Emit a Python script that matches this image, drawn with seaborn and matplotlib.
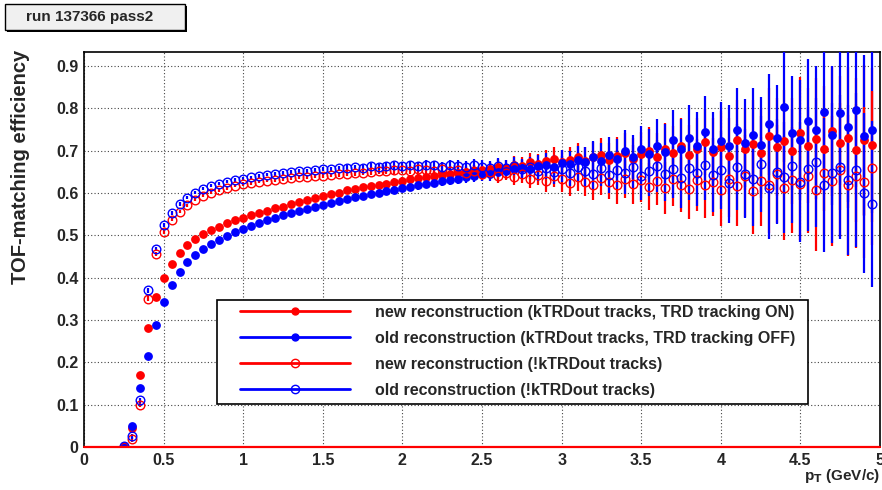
import numpy as np
import matplotlib
matplotlib.use("Agg")
import matplotlib.pyplot as plt
from matplotlib.lines import Line2D
from matplotlib.patches import Rectangle
import seaborn as sns

# pT bin centres (GeV/c)
pt = np.round(np.arange(0.25, 4.951, 0.05), 2)

# TOF matching efficiency
new_trd = [0.002, 0.045, 0.170, 0.280, 0.355, 0.400, 0.433, 0.458, 0.477, 0.491,
           0.502, 0.512, 0.520, 0.528, 0.535, 0.542, 0.548, 0.553, 0.558, 0.564,
           0.568, 0.574, 0.579, 0.584, 0.589, 0.593, 0.598, 0.601, 0.607, 0.609,
           0.613, 0.617, 0.619, 0.622, 0.627, 0.629, 0.632, 0.636, 0.637, 0.641,
           0.643, 0.646, 0.648, 0.650, 0.652, 0.655, 0.657, 0.662, 0.660, 0.667,
           0.664, 0.672, 0.668, 0.676, 0.681, 0.672, 0.678, 0.686, 0.675, 0.684,
           0.690, 0.679, 0.688, 0.695, 0.681, 0.692, 0.700, 0.686, 0.705, 0.694,
           0.712, 0.690, 0.703, 0.720, 0.697, 0.708, 0.688, 0.725, 0.703, 0.716,
           0.694, 0.735, 0.709, 0.722, 0.700, 0.742, 0.712, 0.728, 0.705, 0.747,
           0.718, 0.731, 0.702, 0.725, 0.714]
old_trd = [0.003, 0.050, 0.140, 0.215, 0.288, 0.343, 0.382, 0.413, 0.436, 0.453,
           0.467, 0.479, 0.489, 0.499, 0.508, 0.516, 0.523, 0.530, 0.536, 0.542,
           0.547, 0.553, 0.558, 0.563, 0.567, 0.572, 0.577, 0.581, 0.585, 0.590,
           0.593, 0.597, 0.601, 0.604, 0.608, 0.611, 0.615, 0.618, 0.621, 0.624,
           0.628, 0.631, 0.634, 0.637, 0.640, 0.644, 0.646, 0.650, 0.652, 0.656,
           0.659, 0.656, 0.664, 0.667, 0.662, 0.671, 0.668, 0.677, 0.672, 0.684,
           0.676, 0.689, 0.681, 0.698, 0.684, 0.703, 0.692, 0.712, 0.697, 0.726,
           0.703, 0.731, 0.712, 0.745, 0.705, 0.722, 0.712, 0.748, 0.718, 0.737,
           0.713, 0.762, 0.731, 0.803, 0.742, 0.725, 0.771, 0.748, 0.792, 0.736,
           0.788, 0.756, 0.797, 0.735, 0.748]
new_notrd = [0.001, 0.018, 0.100, 0.350, 0.455, 0.508, 0.537, 0.556, 0.571, 0.584,
             0.594, 0.601, 0.607, 0.612, 0.617, 0.621, 0.624, 0.627, 0.629, 0.631,
             0.633, 0.635, 0.637, 0.638, 0.640, 0.641, 0.642, 0.644, 0.645, 0.647,
             0.648, 0.650, 0.651, 0.653, 0.654, 0.655, 0.653, 0.657, 0.655, 0.652,
             0.656, 0.651, 0.654, 0.648, 0.652, 0.645, 0.650, 0.641, 0.648, 0.638,
             0.645, 0.633, 0.642, 0.628, 0.640, 0.632, 0.624, 0.638, 0.627, 0.620,
             0.635, 0.626, 0.618, 0.633, 0.622, 0.630, 0.615, 0.628, 0.612, 0.634,
             0.620, 0.610, 0.631, 0.618, 0.625, 0.608, 0.632, 0.616, 0.640, 0.605,
             0.628, 0.618, 0.645, 0.612, 0.630, 0.622, 0.640, 0.606, 0.648, 0.628,
             0.655, 0.618, 0.640, 0.625, 0.660]
old_notrd = [0.002, 0.025, 0.110, 0.370, 0.468, 0.524, 0.553, 0.574, 0.589, 0.601,
             0.610, 0.617, 0.622, 0.627, 0.631, 0.634, 0.637, 0.640, 0.643, 0.645,
             0.647, 0.649, 0.651, 0.652, 0.654, 0.656, 0.656, 0.658, 0.659, 0.661,
             0.660, 0.663, 0.662, 0.664, 0.665, 0.664, 0.666, 0.663, 0.667, 0.665,
             0.662, 0.667, 0.664, 0.661, 0.666, 0.662, 0.659, 0.664, 0.658, 0.663,
             0.656, 0.661, 0.653, 0.659, 0.650, 0.657, 0.648, 0.662, 0.651, 0.645,
             0.658, 0.643, 0.655, 0.648, 0.661, 0.640, 0.652, 0.664, 0.645, 0.657,
             0.636, 0.660, 0.648, 0.667, 0.642, 0.655, 0.623, 0.661, 0.646, 0.632,
             0.668, 0.612, 0.650, 0.637, 0.664, 0.626, 0.657, 0.672, 0.618, 0.648,
             0.661, 0.630, 0.655, 0.600, 0.575]

# statistical errors (same for both track selections of one reconstruction)
err_new = [0.005, 0.006, 0.006, 0.006, 0.005, 0.005, 0.004, 0.004, 0.004, 0.004,
           0.004, 0.004, 0.004, 0.004, 0.004, 0.004, 0.004, 0.004, 0.004, 0.004,
           0.004, 0.004, 0.005, 0.005, 0.005, 0.005, 0.005, 0.006, 0.006, 0.006,
           0.006, 0.007, 0.007, 0.007, 0.008, 0.008, 0.009, 0.009, 0.010, 0.010,
           0.011, 0.012, 0.012, 0.013, 0.014, 0.015, 0.016, 0.018, 0.017, 0.020,
           0.021, 0.022, 0.024, 0.025, 0.027, 0.029, 0.030, 0.033, 0.034, 0.037,
           0.039, 0.040, 0.044, 0.046, 0.048, 0.052, 0.055, 0.056, 0.061, 0.064,
           0.066, 0.071, 0.073, 0.078, 0.080, 0.086, 0.088, 0.094, 0.097, 0.103,
           0.105, 0.112, 0.115, 0.122, 0.125, 0.132, 0.135, 0.143, 0.147, 0.154,
           0.158, 0.166, 0.170, 0.178, 0.182]
err_old = [0.005, 0.006, 0.006, 0.006, 0.005, 0.005, 0.004, 0.004, 0.004, 0.004,
           0.004, 0.004, 0.004, 0.004, 0.004, 0.004, 0.004, 0.004, 0.004, 0.004,
           0.004, 0.005, 0.005, 0.005, 0.005, 0.005, 0.006, 0.006, 0.006, 0.006,
           0.007, 0.007, 0.007, 0.008, 0.008, 0.009, 0.009, 0.010, 0.010, 0.011,
           0.012, 0.012, 0.013, 0.014, 0.015, 0.016, 0.017, 0.018, 0.019, 0.021,
           0.022, 0.024, 0.025, 0.027, 0.028, 0.031, 0.032, 0.035, 0.037, 0.039,
           0.041, 0.044, 0.046, 0.050, 0.052, 0.056, 0.058, 0.062, 0.065, 0.069,
           0.072, 0.076, 0.079, 0.084, 0.087, 0.092, 0.095, 0.101, 0.105, 0.110,
           0.114, 0.120, 0.124, 0.131, 0.135, 0.142, 0.146, 0.153, 0.158, 0.165,
           0.170, 0.177, 0.182, 0.190, 0.196]

labels = ["new reconstruction (kTRDout tracks, TRD tracking ON)",
          "old reconstruction (kTRDout tracks, TRD tracking OFF)",
          "new reconstruction (!kTRDout tracks)",
          "old reconstruction (!kTRDout tracks)"]

sns.set_style("white")
fonts = ["Liberation Sans", "DejaVu Sans"]
plt.rcParams["font.family"] = fonts
plt.rcParams["font.weight"] = "bold"
plt.rcParams["mathtext.default"] = "bf"

fig = plt.figure(figsize=(8.82, 4.9), dpi=100)
ax = fig.add_axes([84 / 882, 43 / 490, 796 / 882, 395 / 490])

series = [(new_trd, err_new, "red", True),
          (old_trd, err_old, "blue", True),
          (new_notrd, err_new, "red", False),
          (old_notrd, err_old, "blue", False)]
for vals, err, col, filled in series:
    ax.errorbar(pt, vals, yerr=err, fmt="o", color=col, ecolor=col,
                elinewidth=1.6, capsize=0,
                ms=5.3 if filled else 6.2, mew=1.0,
                mfc=col if filled else "none", mec=col, zorder=3)

# empty bins sit on the axis
ax.axhline(0, color="red", lw=1.6, zorder=4, clip_on=False)

ax.set_xlim(0, 5)
ax.set_ylim(0, 0.933)
ax.set_xticks(np.arange(0, 5.01, 0.5))
ax.set_xticklabels(["0", "0.5", "1", "1.5", "2", "2.5", "3", "3.5", "4", "4.5", "5"])
ax.set_xticks(np.arange(0, 5.01, 0.1), minor=True)
ax.set_yticks(np.arange(0, 0.91, 0.1))
ax.set_yticklabels(["0", "0.1", "0.2", "0.3", "0.4", "0.5", "0.6", "0.7", "0.8", "0.9"])
ax.set_yticks(np.arange(0, 0.93, 0.02), minor=True)
ax.tick_params(axis="both", which="both", direction="in", color="black",
               labelsize=11.5, pad=4, top=False, right=False)
ax.tick_params(axis="y", which="major", length=17, width=1)
ax.tick_params(axis="y", which="minor", length=8.5, width=1)
ax.tick_params(axis="x", which="major", length=7, width=1)
ax.tick_params(axis="x", which="minor", length=3.5, width=1)
ax.grid(True, which="major", ls=(0, (1, 2)), color="#444444", lw=0.8)
for sp in ax.spines.values():
    sp.set_color("black")
    sp.set_linewidth(1.2)

# legend: frame drawn by hand so the entries can sit where ROOT put them
ax.add_patch(Rectangle((217 / 882, 1 - 404 / 490), 591 / 882, 104 / 490,
                       transform=fig.transFigure, facecolor="white",
                       edgecolor="black", lw=1.2, zorder=4.5, clip_on=False))
handles = [Line2D([], [], color=c, lw=2, marker="o", ms=5 if f else 6,
                  mfc=c if f else "none", mec=c, mew=1.0)
           for _, _, c, f in series]
leg = ax.legend(handles, labels, loc="upper left",
                bbox_to_anchor=(240 / 882, 1 - 305 / 490),
                bbox_transform=fig.transFigure, frameon=False,
                borderpad=0, borderaxespad=0, handlelength=6.9,
                handletextpad=1.55, labelspacing=0.68,
                prop={"size": 11.5, "weight": "bold", "family": fonts})
leg.set_zorder(5)

# title box with shadow
fig.patches.append(Rectangle((7 / 882, 1 - 32 / 490), 180 / 882, 26 / 490,
                             transform=fig.transFigure, facecolor="black",
                             edgecolor="none"))
fig.patches.append(Rectangle((5 / 882, 1 - 30 / 490), 180 / 882, 26 / 490,
                             transform=fig.transFigure, facecolor="#f0f0f0",
                             edgecolor="black", lw=1))
fig.text(90 / 882, 1 - 17 / 490, "run 137366 pass2", ha="center", va="center",
         fontsize=11, fontweight="bold")

fig.text(21 / 882, 1 - 50 / 490, "TOF-matching efficiency", rotation=90,
         ha="center", va="top", fontsize=14.5, fontweight="bold")
fig.text(880 / 882, 1 - 480 / 490, r"p$_{T}$ (GeV/c)", ha="right",
         va="baseline", fontsize=11, fontweight="bold")

fig.savefig("out.png", dpi=100)
